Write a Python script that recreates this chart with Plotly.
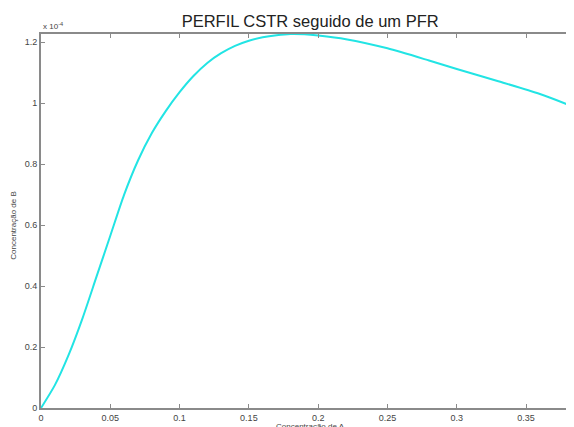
import plotly.graph_objects as go

# Data (Concentração de A vs Concentração de B, B in units of 1e-4)
conc_a = [0, 0.01, 0.02, 0.03, 0.04, 0.05, 0.06, 0.07, 0.08, 0.09, 0.10, 0.11, 0.12, 0.13,
          0.14, 0.15, 0.16, 0.17, 0.18, 0.19, 0.20, 0.22, 0.25, 0.28, 0.30, 0.33, 0.36, 0.385]
conc_b_e4 = [0, 0.075, 0.175, 0.295, 0.43, 0.565, 0.70, 0.812, 0.902, 0.974, 1.036, 1.089, 1.132, 1.164,
             1.188, 1.205, 1.216, 1.223, 1.227, 1.226, 1.222, 1.21, 1.18, 1.14, 1.112, 1.072, 1.03, 0.987]
conc_b = [v * 1e-4 for v in conc_b_e4]

x_ticks = [0, 0.05, 0.1, 0.15, 0.2, 0.25, 0.3, 0.35]
x_tick_labels = ["0", "0.05", "0.1", "0.15", "0.2", "0.25", "0.3", "0.35"]
y_ticks_e4 = [0, 0.2, 0.4, 0.6, 0.8, 1.0, 1.2]
y_tick_labels = ["0", "0.2", "0.4", "0.6", "0.8", "1", "1.2"]

fig = go.Figure()
fig.add_trace(go.Scatter(x=conc_a, y=conc_b, mode="lines",
                         line=dict(color="#22e4e4", width=2, shape="spline", smoothing=0.7),
                         showlegend=False))

axis_col = "#8a8a8a"
tick_font = dict(family="Arial", size=9, color="#444")
lab_font = dict(family="Arial", size=8, color="#444")

# page body has an 8px margin: figure is shifted by 8px, so compensate
fig.update_layout(
    width=566, height=419,
    margin=dict(l=33, r=0, t=26, b=19, autoexpand=False),
    paper_bgcolor="white", plot_bgcolor="white",
    title=dict(text="PERFIL CSTR seguido de um PFR", xref="paper", x=0.505, xanchor="center",
               yref="container", y=0.982, yanchor="top",
               font=dict(family="Arial", size=16.5, color="#222")),
    xaxis=dict(range=[0, 0.3846], tickvals=x_ticks, ticktext=x_tick_labels, automargin=False,
               showline=True, linecolor=axis_col, linewidth=2, mirror="ticks",
               ticks="inside", ticklen=4, tickcolor=axis_col, tickwidth=1,
               showgrid=False, zeroline=False, tickfont=tick_font),
    yaxis=dict(range=[0, 1.227e-4], tickvals=[v * 1e-4 for v in y_ticks_e4], ticktext=y_tick_labels,
               automargin=False,
               showline=True, linecolor=axis_col, linewidth=2,
               ticks="inside", ticklen=4, tickcolor=axis_col, tickwidth=1,
               showgrid=False, zeroline=False, tickfont=tick_font),
    annotations=[
        dict(text="x 10<sup>-4</sup>", xref="paper", yref="paper", x=0, y=1.0,
             xanchor="left", yanchor="bottom", showarrow=False, yshift=1, font=lab_font),
        dict(text="Concentração de A", xref="paper", yref="paper", x=0.505, y=0,
             xanchor="center", yanchor="top", yshift=-13, showarrow=False, font=lab_font,
             borderpad=0),
        dict(text="Concentração de B", xref="paper", yref="paper", x=-0.0507, y=0.49,
             xanchor="center", yanchor="middle", textangle=-90, showarrow=False, font=lab_font),
    ],
)

fig.write_html("out.html")
